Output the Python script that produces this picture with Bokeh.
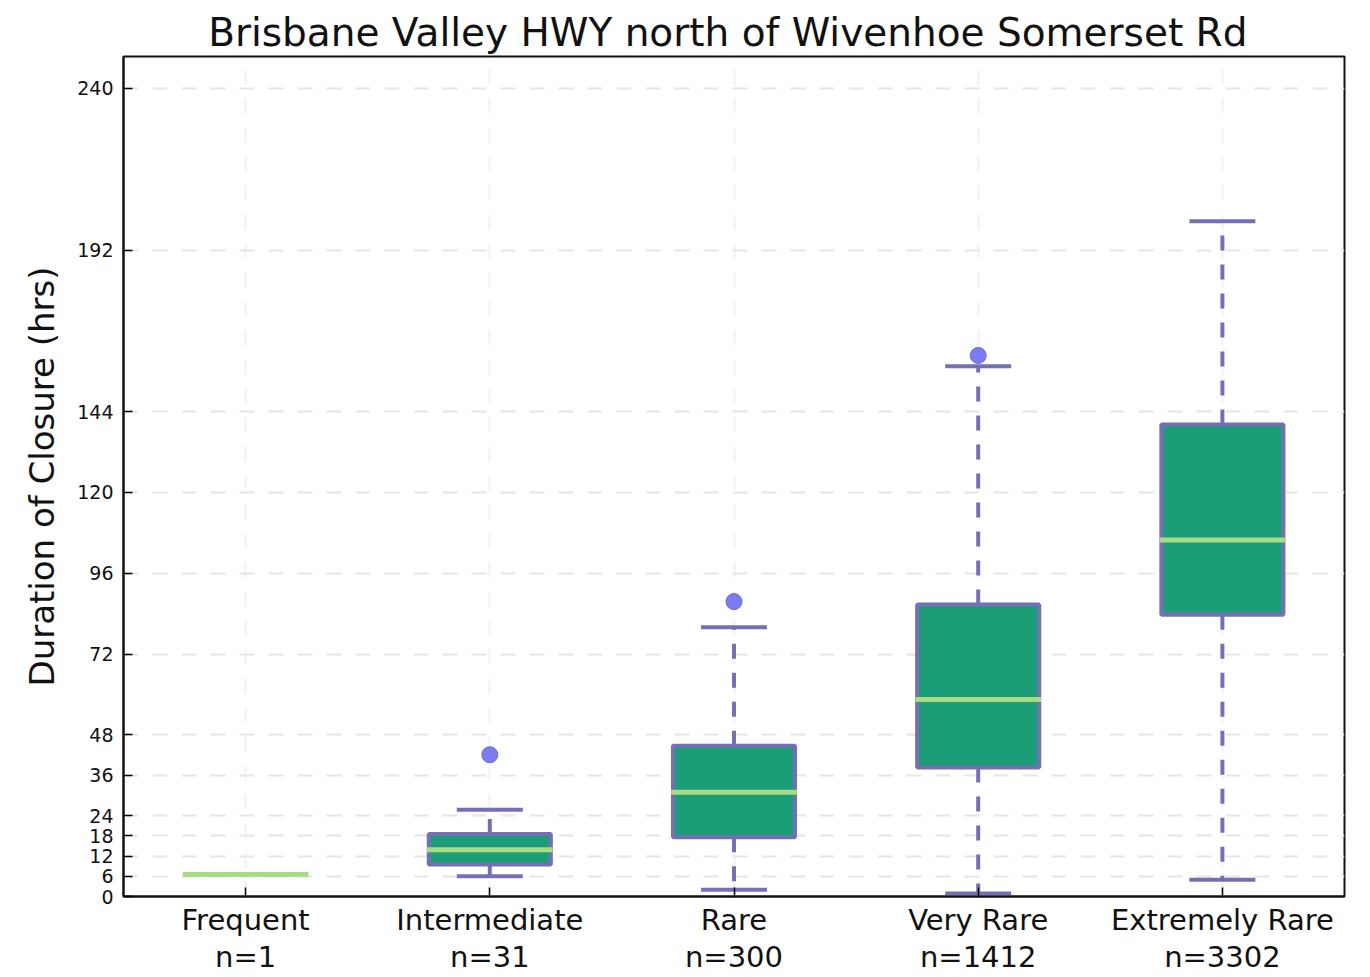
from bokeh.plotting import figure
from bokeh.models import Range1d, FixedTicker, ColumnDataSource, CategoricalAxis, FactorRange
from bokeh.embed import file_html
from bokeh.resources import INLINE

categories = ["Frequent", "Intermediate", "Rare", "Very Rare", "Extremely Rare"]
n_counts = [1, 31, 300, 1412, 3302]
q1 = [6.5, 9.5, 17.6, 38.3, 83.7]
median = [6.5, 13.9, 31.0, 58.5, 105.9]
q3 = [6.5, 18.6, 44.8, 86.7, 140.2]
whisker_low = [6.5, 6.0, 2.0, 0.9, 5.0]
whisker_high = [6.5, 25.8, 80.0, 157.5, 200.6]
outlier_cat = ["Intermediate", "Rare", "Very Rare"]
outlier_val = [42.1, 87.6, 160.7]
y_ticks = [0, 6, 12, 18, 24, 36, 48, 72, 96, 120, 144, 192, 240]

PURPLE = "#7570b3"
GREEN = "#1b9e77"
MED = "#a9db83"
FONT = "DejaVu Sans"
INK = "#111111"

src = ColumnDataSource(dict(cat=categories, q1=q1, med=median, q3=q3,
                            lo=whisker_low, hi=whisker_high))

p = figure(x_range=categories, y_range=Range1d(0, 249.5),
           width=1370, height=977, output_backend="svg", toolbar_location=None,
           min_border_left=123, min_border_right=26, min_border_top=56, min_border_bottom=81)

p.title.text = "Brisbane Valley HWY  north of Wivenhoe Somerset Rd"
p.title.text_font = FONT
p.title.text_font_size = "39px"
p.title.text_font_style = "normal"
p.title.align = "center"
p.title.text_color = INK
p.title.standoff = 4

p.outline_line_color = INK
p.outline_line_width = 2
p.background_fill_color = "white"
p.border_fill_color = "white"

# grids
p.ygrid.ticker = FixedTicker(ticks=y_ticks)
p.ygrid.grid_line_color = "#e6e6e6"
p.ygrid.grid_line_width = 2
p.ygrid.grid_line_dash = "15 14"
p.xgrid.grid_line_color = "#f1f1f1"
p.xgrid.grid_line_width = 2
p.xgrid.grid_line_dash = "15 14"

# y axis
p.yaxis.ticker = FixedTicker(ticks=y_ticks)
p.yaxis.minor_tick_line_color = None
p.yaxis.major_tick_in = 9
p.yaxis.major_tick_out = 0
p.yaxis.major_tick_line_width = 1.5
p.yaxis.axis_line_width = 2
p.yaxis.axis_line_color = INK
p.yaxis.major_label_text_font = FONT
p.yaxis.major_label_text_font_size = "19px"
p.yaxis.major_label_text_color = INK
p.yaxis.major_label_standoff = 10
p.yaxis.axis_label = "Duration of Closure (hrs)"
p.yaxis.axis_label_text_font = FONT
p.yaxis.axis_label_text_font_size = "34px"
p.yaxis.axis_label_text_font_style = "normal"
p.yaxis.axis_label_text_color = INK
p.yaxis.axis_label_standoff = 12

# x axis: category names
xa = p.xaxis[0]
xa.major_tick_in = 9
xa.major_tick_out = 0
xa.major_tick_line_width = 1.5
xa.axis_line_width = 2
xa.axis_line_color = INK
xa.major_label_text_font = FONT
xa.major_label_text_font_size = "29px"
xa.major_label_text_color = INK
xa.major_label_standoff = 6

# second row of x labels: sample counts, on a parallel factor range
n_labels = [f"n={n}" for n in n_counts]
p.extra_x_ranges = {"counts": FactorRange(factors=n_labels)}
n_axis = CategoricalAxis(x_range_name="counts", axis_line_color=None,
                         major_tick_line_color=None, minor_tick_line_color=None,
                         major_label_text_font=FONT, major_label_text_font_size="29px",
                         major_label_text_color=INK, major_label_standoff=-6)
p.add_layout(n_axis, "below")

# whiskers (dashed)
p.segment(x0="cat", y0="q3", x1="cat", y1="hi", source=src,
          line_color=PURPLE, line_width=4, line_dash="15 14")
p.segment(x0="cat", y0="q1", x1="cat", y1="lo", source=src,
          line_color=PURPLE, line_width=4, line_dash="15 14")
# caps
p.rect(x="cat", y="hi", width=0.27, height=4, height_units="screen", source=src,
       fill_color=PURPLE, line_color=None)
p.rect(x="cat", y="lo", width=0.27, height=4, height_units="screen", source=src,
       fill_color=PURPLE, line_color=None)
# boxes
p.vbar(x="cat", bottom="q1", top="q3", width=0.5, source=src,
       fill_color=GREEN, line_color=PURPLE, line_width=4)
# medians
p.rect(x="cat", y="med", width=0.515, height=5, height_units="screen", source=src,
       fill_color=MED, line_color=None)
# outliers
p.scatter(x=outlier_cat, y=outlier_val, size=16, marker="circle",
          fill_color="#7b7bf2", line_color="#6a6ad0", line_width=1)

open("out.html", "w").write(file_html(p, INLINE))
